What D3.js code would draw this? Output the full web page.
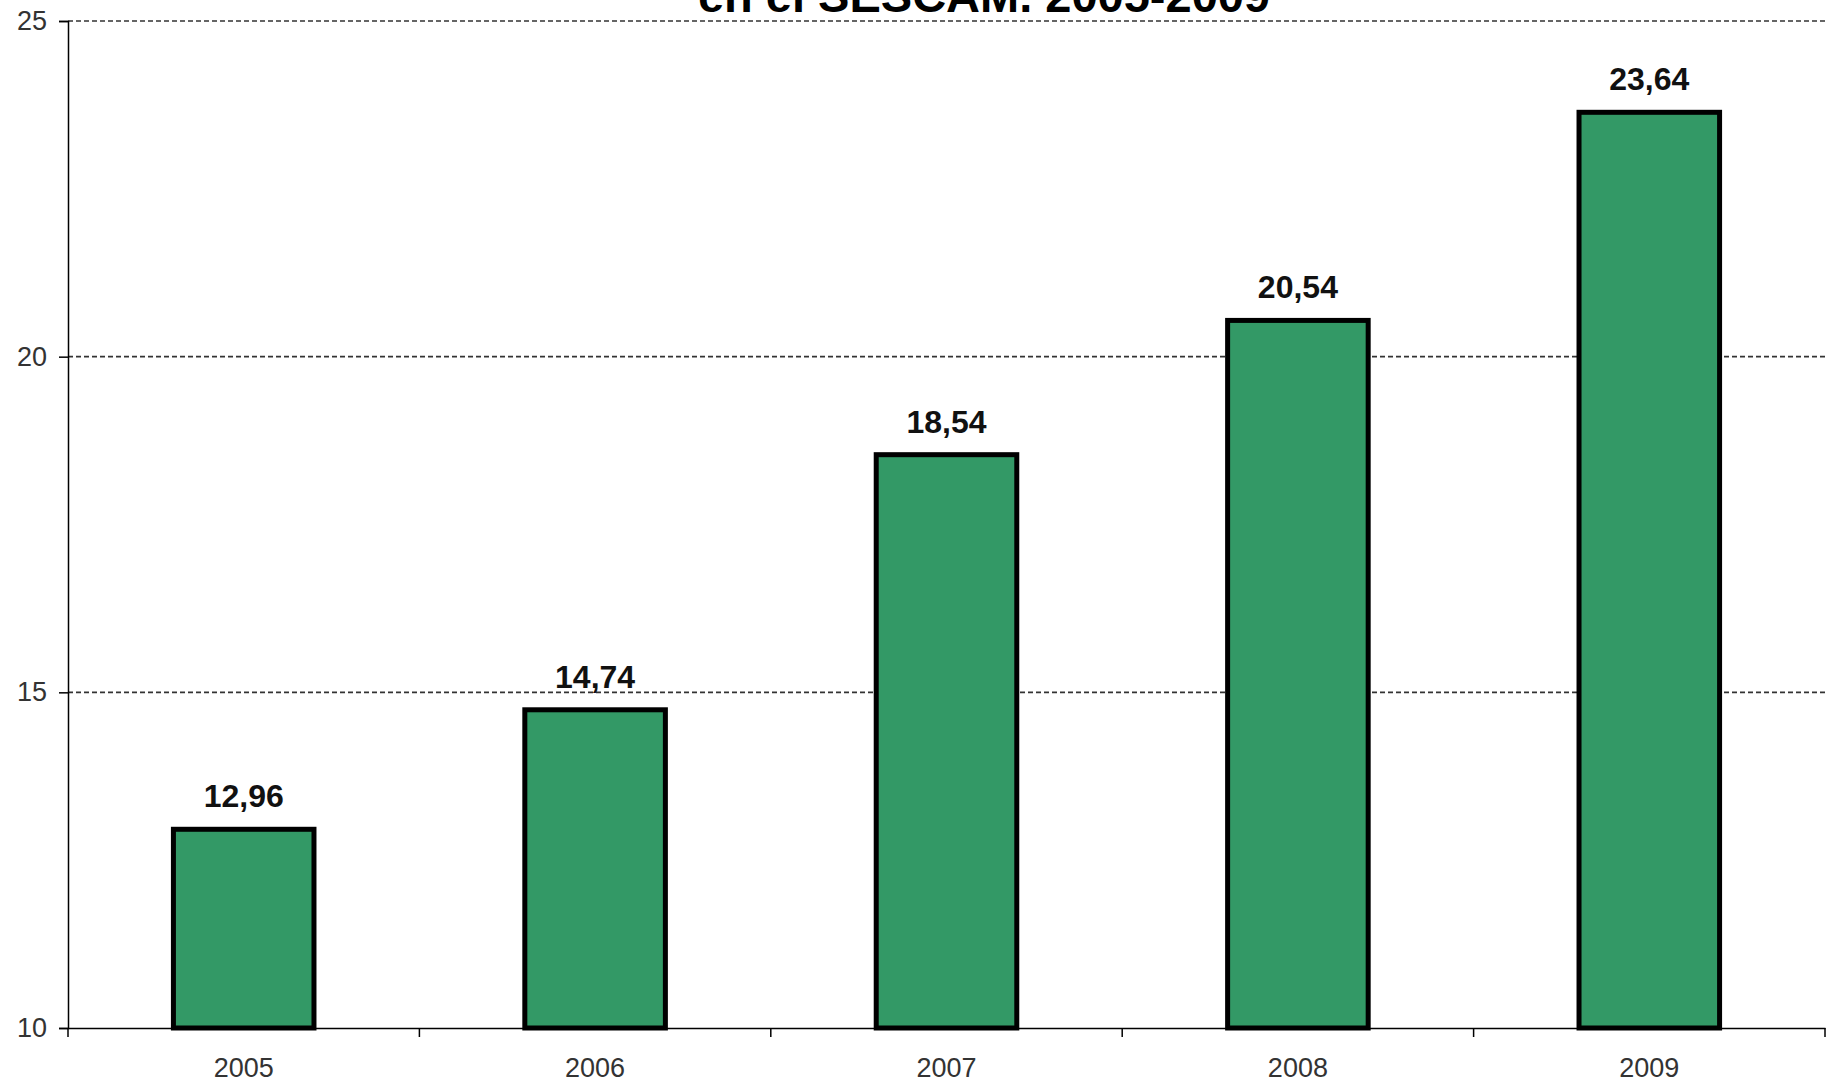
<!DOCTYPE html>
<html>
<head>
<meta charset="utf-8">
<script src="https://cdn.jsdelivr.net/npm/d3@7"></script>
<style>
  body { margin: 0; background: #fff; }
  svg { display: block; font-family: Arial, 'Liberation Sans', sans-serif; }
</style>
</head>
<body>
<svg id="chart"></svg>
<script>
const years = ['2005', '2006', '2007', '2008', '2009'];
const values = [12.96, 14.74, 18.54, 20.54, 23.64];
const yTicks = [10, 15, 20, 25];
const titleText = 'en el SESCAM. 2005-2009';

const W = 1834, H = 1084;
const margin = {top: 21, right: 9, bottom: 56, left: 68};
const width = W - margin.left - margin.right;
const height = H - margin.top - margin.bottom;

const svg = d3.select('#chart')
  .attr('width', W)
  .attr('height', H);

const g = svg.append('g')
  .attr('transform', `translate(${margin.left}, ${margin.top})`);

const x = d3.scaleBand()
  .domain(years)
  .range([0, width])
  .paddingInner(0.6)
  .paddingOuter(0.3);

const y = d3.scaleLinear()
  .domain([10, 25])
  .range([height, 0]);

// title, top part runs off the picture like in the source
svg.append('text')
  .attr('x', 984)
  .attr('y', 12)
  .attr('text-anchor', 'middle')
  .style('font-size', '47px')
  .style('font-weight', 'bold')
  .text(titleText);

// grid
g.selectAll('.grid')
  .data(yTicks.filter(d => d > 10))
  .enter()
  .append('line')
  .attr('x1', 0)
  .attr('x2', width)
  .attr('y1', d => y(d))
  .attr('y2', d => y(d))
  .attr('stroke', '#333')
  .attr('stroke-width', 1.6)
  .attr('stroke-dasharray', '5,3');

// bars
g.selectAll('.bar')
  .data(values)
  .enter()
  .append('rect')
  .attr('x', (d, i) => x(years[i]))
  .attr('y', d => y(d))
  .attr('width', x.bandwidth())
  .attr('height', d => y(10) - y(d))
  .attr('fill', '#339966')
  .attr('stroke', '#000')
  .attr('stroke-width', 5);

// value labels
g.selectAll('.val')
  .data(values)
  .enter()
  .append('text')
  .attr('x', (d, i) => x(years[i]) + x.bandwidth() / 2)
  .attr('y', d => y(d) - 22)
  .attr('text-anchor', 'middle')
  .style('font-size', '32px')
  .style('font-weight', 'bold')
  .attr('fill', '#111')
  .text(d => d.toFixed(2).replace('.', ','));

// y axis
const yAxis = g.append('g')
  .call(d3.axisLeft(y).tickValues(yTicks).tickSize(9).tickPadding(12));
yAxis.select('.domain').attr('stroke', '#000').attr('stroke-width', 1.5);
yAxis.selectAll('.tick line').attr('stroke', '#000').attr('stroke-width', 1.5);
yAxis.selectAll('.tick text')
  .style('font-size', '27px')
  .attr('fill', '#333');

// x axis
const xAxis = g.append('g')
  .attr('transform', `translate(0, ${height})`)
  .call(d3.axisBottom(x).tickSize(0).tickPadding(30));
xAxis.select('.domain').attr('stroke', '#000').attr('stroke-width', 1.5);
xAxis.selectAll('.tick text')
  .style('font-size', '27px')
  .attr('fill', '#333');

xAxis.selectAll('.sep')
  .data(d3.range(years.length + 1))
  .enter()
  .append('line')
  .attr('x1', i => i * width / years.length)
  .attr('x2', i => i * width / years.length)
  .attr('y1', 0)
  .attr('y2', 9)
  .attr('stroke', '#000')
  .attr('stroke-width', 1.5);
</script>
</body>
</html>
